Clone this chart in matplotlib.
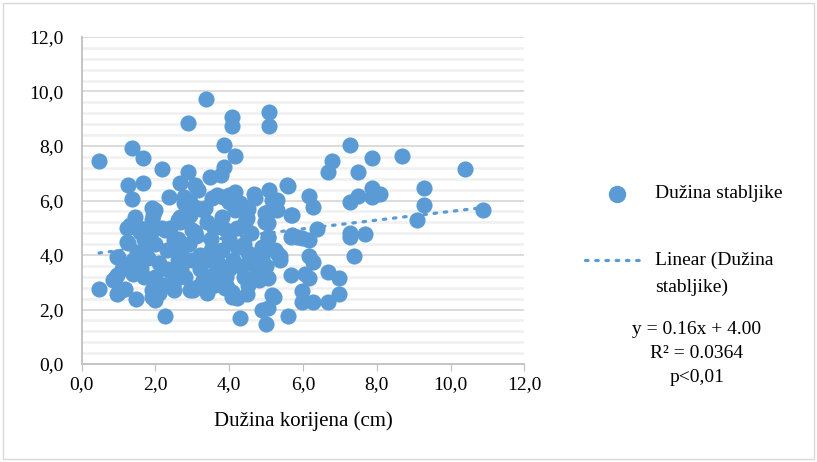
import numpy as np
import matplotlib.pyplot as plt
from matplotlib.lines import Line2D
from matplotlib.patches import Rectangle

# root length (cm) vs stem length
korijen = [0.47, 0.47, 1.36, 1.67, 2.17, 2.87, 3.36, 4.07, 4.07, 5.08, 5.08, 3.86, 4.16, 3.86,
           3.77, 3.48, 2.87, 2.67, 3.07, 3.16, 2.38, 1.67, 1.26, 1.36, 2.76, 2.76, 4.16, 4.66,
           5.08, 3.53, 3.84, 1.45, 1.90, 1.99, 2.67, 2.87, 3.30, 4.16, 4.48, 4.97, 5.29, 7.28,
           6.78, 6.67, 7.88, 7.48, 8.68, 10.38, 5.58, 6.17, 6.27, 5.24, 5.29, 5.67, 7.28, 7.48,
           7.88, 7.88, 8.09, 9.29, 9.29, 9.09, 10.88, 5.06, 6.38, 5.67, 5.83, 6.17, 7.28, 7.28,
           7.69, 7.37, 5.06, 5.24, 5.38, 6.17, 6.27, 5.67, 5.06, 6.06, 6.17, 6.67, 6.98, 5.97,
           5.20, 5.06, 5.97, 6.27, 6.67, 6.98, 5.58, 4.99, 0.95, 1.17, 1.46, 1.90, 1.99, 2.26,
           4.28, 4.88, 4.48, 4.20, 4.07, 5.15, 0.86, 0.95, 1.26, 0.95, 1.26, 1.31, 1.58, 1.94,
           2.17, 1.94, 2.67, 1.90, 2.94, 3.12, 3.57, 3.93, 5.56, 3.66, 3.98,
           2.94, 1.90, 2.26, 2.62, 2.94, 1.58, 1.22, 1.22, 0.99, 1.76, 2.49, 3.12, 3.07,
           4.70, 5.15, 5.06, 5.70, 4.97, 5.06, 5.29, 5.70, 5.97, 4.52, 3.98, 3.35, 4.43,
           2.3, 2.6, 2.9, 3.2, 3.5, 3.8, 4.1, 4.4, 4.7, 2.4, 2.8, 3.2, 3.6, 4.0, 4.4, 4.8,
           3.0, 3.4, 3.9, 4.2, 4.6, 2.1, 1.8, 1.6, 2.0, 2.2, 2.5, 3.3, 3.7, 4.2, 4.6, 2.6,
           3.1, 3.5, 4.9, 3.8, 4.3, 4.5, 3.0, 2.7, 1.5, 1.7, 2.0, 2.4, 3.6, 4.0, 4.8, 4.5,
           2.1, 5.02, 4.07, 3.89, 3.62, 5.38, 0.90, 0.99, 2.03, 3.03,
           1.1, 1.4, 1.7, 2.3, 2.7, 3.4, 3.9, 4.3, 1.4, 2.5, 3.4, 4.7, 5.0, 4.9]
stabljika = [7.45, 2.75, 7.94, 7.55, 7.14, 8.86, 9.72, 9.08, 8.73, 9.24, 8.75, 8.04, 7.63, 7.24,
             6.94, 6.85, 7.06, 6.63, 6.57, 6.39, 6.14, 6.65, 6.56, 6.06, 6.14, 5.90, 6.30, 6.24,
             6.39, 6.08, 6.14, 5.41, 5.71, 5.65, 5.38, 5.41, 5.65, 5.65, 5.35, 5.53, 6.02, 8.04,
             7.45, 7.03, 7.55, 7.03, 7.63, 7.14, 6.54, 6.17, 5.75, 5.96, 5.65, 5.47, 5.96, 6.17,
             6.45, 6.14, 6.24, 6.45, 5.83, 5.28, 5.65, 5.17, 4.95, 4.67, 4.65, 4.55, 4.82, 4.65,
             4.77, 3.96, 4.67, 4.18, 3.96, 3.96, 3.75, 3.27, 3.14, 3.29, 3.14, 3.39, 3.14, 2.69,
             2.47, 2.07, 2.29, 2.29, 2.26, 2.57, 1.77, 1.47, 2.56, 2.75, 2.37, 2.47, 2.35, 1.76,
             1.68, 1.98, 2.56, 2.41, 2.65, 2.53, 3.08, 3.27, 3.63, 3.94, 4.43, 5.10, 4.86, 4.92,
             4.98, 5.47, 5.22, 2.72, 2.72, 2.84, 2.90, 2.84, 6.57, 6.20, 6.20,
             5.96, 5.28, 4.92, 5.28, 5.47, 4.98, 4.98, 4.49, 3.94, 4.30, 4.55, 5.71, 4.86,
             6.08, 6.02, 5.59, 5.47, 5.22, 4.61, 4.06, 4.73, 4.61, 4.06, 5.96, 5.71, 5.22,
             4.2, 3.8, 4.4, 4.0, 4.6, 4.2, 3.8, 4.4, 4.0, 3.4, 3.2, 3.5, 3.3, 3.5, 3.2, 3.5,
             4.9, 5.2, 4.9, 5.0, 4.8, 3.7, 3.9, 3.5, 3.2, 2.9, 3.0, 3.1, 3.7, 4.3, 3.7, 4.6,
             4.7, 4.2, 4.3, 5.4, 5.9, 5.7, 3.8, 4.1, 4.1, 4.6, 4.4, 5.0, 5.0, 4.6, 3.1, 2.9,
             2.6, 3.2, 2.47, 2.78, 2.90, 3.82, 3.14, 2.59, 2.59, 2.72,
             3.5, 3.8, 3.2, 3.5, 3.5, 3.8, 3.2, 3.6, 3.3, 2.7, 2.6, 3.2, 3.6, 3.9]

nagib, odsjecak = 0.16, 4.00
x_ticks = np.arange(0, 12.1, 2)
y_ticks = np.arange(0, 12.1, 2)

plava = '#5B9BD5'
plt.rcParams['font.family'] = ['Liberation Serif', 'DejaVu Serif']

fig = plt.figure(figsize=(8.17, 4.62), dpi=100)
ax = fig.add_axes([0.1, 0.212, 0.5418, 0.708])

# chart area border
fig.add_artist(Rectangle((0.004, 0.006), 0.992, 0.988, transform=fig.transFigure,
                         fill=False, edgecolor='#D9D9D9', linewidth=1))

ax.set_xlim(0, 12)
ax.set_ylim(0, 12)
for y in np.arange(0.4, 12.01, 0.4):
    if abs(y / 2 - round(y / 2)) > 1e-6:
        ax.axhline(y, color='#F0F0F0', linewidth=1.8, zorder=0)
for y in y_ticks[1:]:
    ax.axhline(y, color='#D9D9D9', linewidth=1.3, zorder=0)

ax.scatter(korijen, stabljika, s=135, color=plava, linewidths=0, zorder=3)

xt = np.array([min(korijen), max(korijen)])
ax.plot(xt, nagib * xt + odsjecak, color=plava, linewidth=2.3,
        linestyle=(0, (0.8, 2.4)), dash_capstyle='round', zorder=4)

for s in ['top', 'right']:
    ax.spines[s].set_visible(False)
ax.spines['left'].set_color('#BFBFBF')
ax.spines['bottom'].set_color('#BFBFBF')
ax.spines['left'].set_linewidth(1.3)
ax.spines['bottom'].set_linewidth(1.3)

ax.set_xticks(x_ticks)
ax.set_yticks(y_ticks)
ax.set_xticklabels([f'{v:.1f}'.replace('.', ',') for v in x_ticks], fontsize=14)
ax.set_yticklabels([f'{v:.1f}'.replace('.', ',') for v in y_ticks], fontsize=14)
ax.tick_params(axis='x', length=5, color='#BFBFBF', pad=4)
ax.tick_params(axis='y', length=0, pad=13)
ax.set_xlabel('Dužina korijena (cm)', fontsize=15, labelpad=13)

# legend and equation, drawn by hand
fig.add_artist(Line2D([617 / 817], [1 - 194 / 462], marker='o', markersize=11.5,
                      color=plava, linestyle='none', transform=fig.transFigure))
fig.text(655 / 817, 1 - 194 / 462, 'Dužina stabljike', fontsize=14, va='center')
fig.add_artist(Line2D([585 / 817, 645 / 817], [1 - 260 / 462] * 2, color=plava, linewidth=2.3,
                      linestyle=(0, (0.8, 2.4)), dash_capstyle='round', transform=fig.transFigure))
fig.text(655 / 817, 1 - 260 / 462, 'Linear (Dužina', fontsize=14, va='center')
fig.text(655 / 817, 1 - 287 / 462, 'stabljike)', fontsize=14, va='center')
fig.text(697 / 817, 1 - 329 / 462, 'y = 0.16x + 4.00', fontsize=14, va='center', ha='center')
fig.text(697 / 817, 1 - 353 / 462, 'R² = 0.0364', fontsize=14, va='center', ha='center')
fig.text(697 / 817, 1 - 378 / 462, 'p<0,01', fontsize=14, va='center', ha='center')

fig.savefig('out.png', dpi=100)
